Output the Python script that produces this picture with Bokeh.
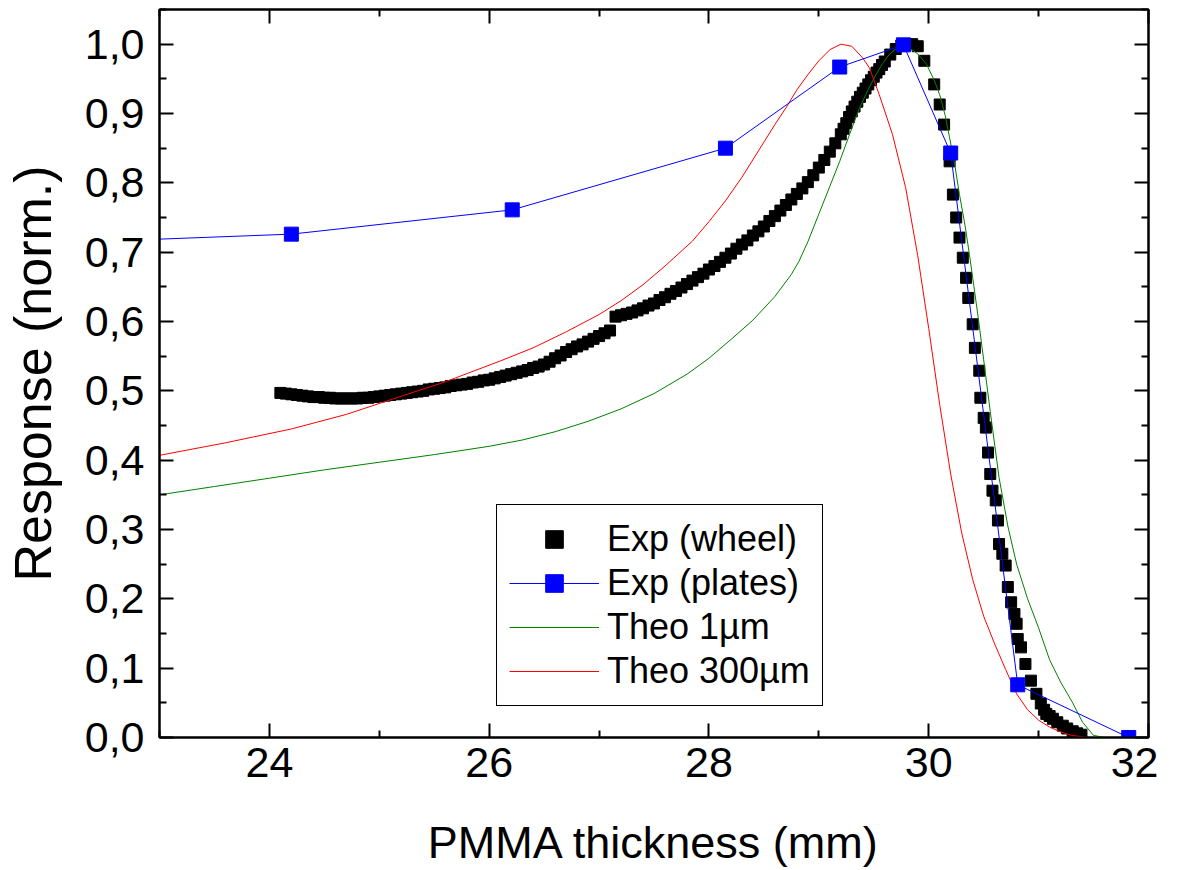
from bokeh.plotting import figure
from bokeh.models import (FixedTicker, LinearAxis, Legend, LegendItem, Range1d)
from bokeh.embed import file_html
from bokeh.resources import INLINE

# ---------------- data ----------------
wheel_x = [24.10, 24.15, 24.20, 24.25, 24.30, 24.35, 24.40, 24.45, 24.50, 24.55,
           24.60, 24.65, 24.70, 24.75, 24.80, 24.85, 24.90, 24.95, 25.00, 25.05,
           25.10, 25.15, 25.20, 25.25, 25.30, 25.35, 25.40, 25.45, 25.50, 25.55,
           25.60, 25.65, 25.70, 25.75, 25.80, 25.85, 25.90, 25.95, 26.00, 26.05,
           26.10, 26.15, 26.20, 26.25, 26.30, 26.35, 26.40, 26.45, 26.50, 26.55,
           26.60, 26.65, 26.70, 26.75, 26.80, 26.85, 26.90, 26.95, 27.00, 27.05,
           27.10, 27.15, 27.20, 27.25, 27.30, 27.35, 27.40, 27.45, 27.50, 27.55,
           27.60, 27.65, 27.70, 27.75, 27.80, 27.85, 27.90, 27.95, 28.00, 28.05,
           28.10, 28.15, 28.20, 28.25, 28.30, 28.35, 28.40, 28.45, 28.50, 28.55,
           28.60, 28.65, 28.70, 28.75, 28.80, 28.85, 28.90, 28.95, 29.00, 29.05,
           29.10, 29.15, 29.20, 29.225, 29.25, 29.275, 29.30, 29.325, 29.35, 29.375,
           29.40, 29.425, 29.45, 29.475, 29.50, 29.525, 29.55, 29.575,
           29.60, 29.65, 29.70, 29.75, 29.80, 29.85, 29.90,
           29.96, 30.05, 30.10, 30.14, 30.19, 30.22, 30.25, 30.28, 30.31, 30.34,
           30.36, 30.40, 30.42, 30.46, 30.47, 30.50, 30.52, 30.54, 30.56, 30.58,
           30.61, 30.63, 30.64, 30.67, 30.70, 30.72, 30.75, 30.78, 30.80, 30.81,
           30.84, 30.88, 30.93, 30.98, 31.02, 31.05, 31.07, 31.10, 31.13, 31.17,
           31.22, 31.26, 31.31, 31.35, 31.39]
wheel_y = [0.497, 0.496, 0.495, 0.494, 0.493, 0.492, 0.491, 0.491, 0.490, 0.490,
           0.489, 0.489, 0.489, 0.489, 0.489, 0.490, 0.490, 0.491, 0.492, 0.493,
           0.494, 0.495, 0.496, 0.497, 0.498, 0.499, 0.500, 0.502, 0.503, 0.504,
           0.505, 0.507, 0.508, 0.509, 0.510, 0.512, 0.513, 0.515, 0.516, 0.518,
           0.520, 0.522, 0.524, 0.526, 0.528, 0.530, 0.533, 0.535, 0.538, 0.542,
           0.547, 0.551, 0.556, 0.560, 0.564, 0.567, 0.571, 0.575, 0.579, 0.583,
           0.587, 0.607, 0.609, 0.611, 0.613, 0.616, 0.619, 0.623, 0.626, 0.631,
           0.635, 0.640, 0.644, 0.649, 0.654, 0.659, 0.664, 0.669, 0.675, 0.680,
           0.686, 0.692, 0.698, 0.705, 0.711, 0.717, 0.724, 0.730, 0.737, 0.745,
           0.752, 0.760, 0.768, 0.776, 0.784, 0.792, 0.801, 0.811, 0.822, 0.833,
           0.845, 0.857, 0.870, 0.878, 0.886, 0.895, 0.903, 0.910, 0.917, 0.924,
           0.930, 0.936, 0.942, 0.948, 0.953, 0.959, 0.964, 0.970,
           0.975, 0.985, 0.993, 0.998, 1.000, 1.000, 0.997,
           0.976, 0.942, 0.913, 0.884, 0.831, 0.783, 0.750, 0.721, 0.692, 0.663,
           0.634, 0.596, 0.562, 0.529, 0.490, 0.461, 0.447, 0.411, 0.380, 0.356,
           0.342, 0.313, 0.279, 0.265, 0.248, 0.217, 0.195, 0.178, 0.164, 0.142,
           0.130, 0.106, 0.082, 0.063, 0.049, 0.040, 0.034, 0.031, 0.027, 0.022,
           0.017, 0.013, 0.009, 0.006, 0.004]

plates_x = [22.2, 24.20, 26.21, 28.15, 29.19, 29.77, 30.20, 30.81, 31.82]
plates_y = [0.714, 0.726, 0.761, 0.850, 0.967, 0.999, 0.843, 0.076, 0.0]

theo1_x = [23.0, 23.5, 24.0, 24.5, 25.0, 25.5, 26.0, 26.3, 26.6, 26.9,
           27.2, 27.5, 27.8, 28.0, 28.2, 28.4, 28.6, 28.75, 28.82, 28.9,
           29.0, 29.1, 29.19, 29.28, 29.37, 29.45, 29.52, 29.58, 29.64, 29.7,
           29.76, 29.82, 29.9, 29.98, 30.05, 30.1, 30.15, 30.19, 30.24, 30.28,
           30.33, 30.37, 30.41, 30.45, 30.5, 30.56, 30.64, 30.72, 30.8, 30.9,
           31.0, 31.1, 31.2, 31.31, 31.4, 31.5, 31.6, 32.0]
theo1_y = [0.350, 0.362, 0.374, 0.386, 0.397, 0.408, 0.420, 0.429, 0.441, 0.456,
           0.474, 0.496, 0.524, 0.547, 0.574, 0.602, 0.636, 0.668, 0.687, 0.715,
           0.755, 0.795, 0.831, 0.870, 0.908, 0.935, 0.956, 0.972, 0.985, 0.993,
           0.997, 0.995, 0.986, 0.971, 0.948, 0.927, 0.897, 0.865, 0.823, 0.783,
           0.739, 0.697, 0.652, 0.606, 0.545, 0.470, 0.375, 0.305, 0.250, 0.200,
           0.158, 0.112, 0.080, 0.050, 0.022, 0.003, 0.0, 0.0]

theo300_x = [23.0, 23.6, 24.2, 24.7, 25.1, 25.6, 26.1, 26.4, 26.7, 27.0,
             27.2, 27.4, 27.6, 27.85, 28.0, 28.15, 28.3, 28.45, 28.6, 28.7,
             28.8, 28.9, 29.0, 29.1, 29.2, 29.3, 29.4, 29.46, 29.55, 29.67,
             29.79, 29.9, 30.0, 30.1, 30.2, 30.3, 30.4, 30.5, 30.6, 30.7,
             30.8, 30.9, 31.0, 31.1, 31.2, 31.3, 31.45, 32.0]
theo300_y = [0.407, 0.425, 0.445, 0.466, 0.487, 0.513, 0.543, 0.562, 0.585, 0.610,
             0.630, 0.653, 0.680, 0.716, 0.744, 0.774, 0.808, 0.846, 0.884, 0.908,
             0.934, 0.956, 0.976, 0.992, 1.000, 0.997, 0.980, 0.966, 0.927, 0.870,
             0.793, 0.695, 0.590, 0.480, 0.380, 0.295, 0.228, 0.175, 0.135, 0.098,
             0.063, 0.040, 0.025, 0.015, 0.008, 0.003, 0.0, 0.0]

x_ticks = [24, 26, 28, 30, 32]
x_tick_labels = ["24", "26", "28", "30", "32"]
x_minor = [23, 25, 27, 29, 31]
y_ticks = [0.0, 0.1, 0.2, 0.3, 0.4, 0.5, 0.6, 0.7, 0.8, 0.9, 1.0]
y_tick_labels = ["0,0", "0,1", "0,2", "0,3", "0,4", "0,5", "0,6", "0,7", "0,8", "0,9", "1,0"]
y_minor = [0.05, 0.15, 0.25, 0.35, 0.45, 0.55, 0.65, 0.75, 0.85, 0.95, 1.05]

labels = ["Exp (wheel)", "Exp (plates)", "Theo 1µm", "Theo 300µm"]

FONT = "Liberation Sans"

p = figure(x_range=Range1d(23, 32), y_range=Range1d(0, 1.05),
           frame_width=989, frame_height=728,
           min_border_left=152, min_border_right=10, min_border_top=9, min_border_bottom=100,
           output_backend="svg", toolbar_location=None,
           x_axis_label="PMMA thickness (mm)", y_axis_label="Response (norm.)")
p.grid.visible = False
p.outline_line_color = "black"
p.outline_line_width = 2
p.background_fill_color = "white"
p.border_fill_color = "white"

xt = FixedTicker(ticks=x_ticks, minor_ticks=x_minor)
yt = FixedTicker(ticks=y_ticks, minor_ticks=y_minor)

def style_axis(ax, ticker, lab_over, standoff, show_labels=True):
    ax.ticker = ticker
    ax.axis_line_color = "black"
    ax.axis_line_width = 2
    ax.major_tick_line_width = 2
    ax.minor_tick_line_width = 2
    ax.major_tick_in = 14
    ax.major_tick_out = 0
    ax.minor_tick_in = 7
    ax.minor_tick_out = 0
    ax.major_label_standoff = standoff
    ax.major_label_text_font = FONT
    if show_labels:
        ax.major_label_text_color = "black"
        ax.major_label_text_font_size = "43px"
        ax.major_label_overrides = lab_over
    else:
        ax.major_label_text_color = None
        ax.major_label_text_font_size = "1px"
        ax.major_label_standoff = 0

xover = {t: l for t, l in zip(x_ticks, x_tick_labels)}
yover = {t: l for t, l in zip(y_ticks, y_tick_labels)}

style_axis(p.xaxis[0], xt, xover, 10)
style_axis(p.yaxis[0], yt, yover, 15)
for ax, fs, so in ((p.xaxis[0], "45px", 37), (p.yaxis[0], "52px", 20)):
    ax.axis_label_text_font = FONT
    ax.axis_label_text_font_size = fs
    ax.axis_label_text_font_style = "normal"
    ax.axis_label_text_color = "black"
    ax.axis_label_standoff = so

top = LinearAxis()
style_axis(top, FixedTicker(ticks=x_ticks, minor_ticks=x_minor), {}, 0, False)
right = LinearAxis()
style_axis(right, FixedTicker(ticks=y_ticks, minor_ticks=y_minor), {}, 0, False)
p.add_layout(top, "above")
p.add_layout(right, "right")

r_wheel = p.scatter(wheel_x, wheel_y, marker="square", size=11,
                    fill_color="black", line_color="black")
r_g = p.line(theo1_x, theo1_y, line_color="#008000", line_width=1)
r_r = p.line(theo300_x, theo300_y, line_color="#FF0000", line_width=1)
r_bl = p.line(plates_x, plates_y, line_color="#0000FF", line_width=1)
r_bs = p.scatter(plates_x, plates_y, marker="square", size=14,
                 fill_color="#0000FF", line_color="#0000FF")

legend = Legend(items=[LegendItem(label=labels[0], renderers=[r_wheel]),
                       LegendItem(label=labels[1], renderers=[r_bl, r_bs]),
                       LegendItem(label=labels[2], renderers=[r_g]),
                       LegendItem(label=labels[3], renderers=[r_r])],
                location=(337, 31))
legend.border_line_color = "black"
legend.border_line_width = 1
legend.border_line_alpha = 1
legend.background_fill_color = "white"
legend.background_fill_alpha = 1
legend.label_text_font = FONT
legend.label_text_font_size = "36px"
legend.label_text_color = "black"
legend.glyph_width = 90
legend.glyph_height = 44
legend.label_height = 44
legend.spacing = 0
legend.padding = 12
legend.margin = 0
legend.label_standoff = 8
p.add_layout(legend, "center")

open("out.html", "w").write(file_html(p, INLINE))
